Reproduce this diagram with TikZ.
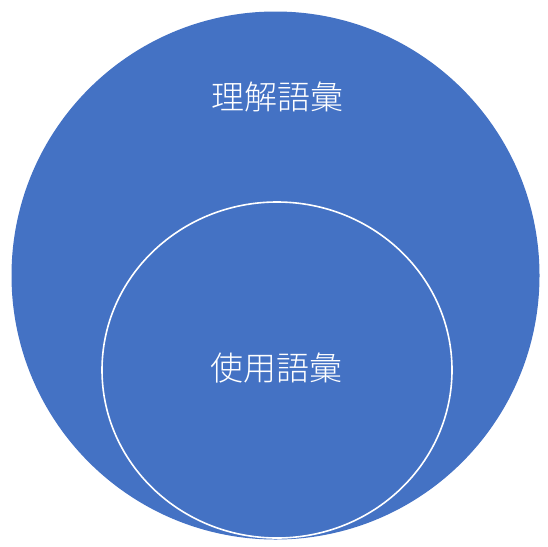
\documentclass[tikz,border=0pt]{standalone}
\usepackage{fontspec}
\newfontfamily\cjk[UprightFont={* Light}]{Noto Sans CJK JP}
\usepackage{tikz}
\definecolor{vocabblue}{HTML}{4472C4}

\begin{document}
\begin{tikzpicture}[x=1pt,y=-1pt]
      \useasboundingbox (0,0) rectangle (548,546);
      \fill[vocabblue] (275.5,275.5) circle (264);
      \draw[white,line width=1.6pt] (277,370) ellipse (175 and 168);
      \node[text=white,font=\cjk\fontsize{33}{33}\selectfont] (passive) at (277,97) {理解語彙};
      \node[text=white,font=\cjk\fontsize{33}{33}\selectfont] (active) at (276,368) {使用語彙};
    \end{tikzpicture}
\end{document}
